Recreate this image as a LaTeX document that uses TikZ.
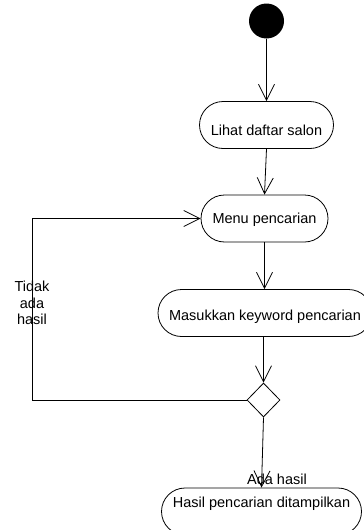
\documentclass[tikz,border=0pt]{standalone}
\usepackage{fontspec}
\setmainfont{Liberation Sans}
\usetikzlibrary{arrows.meta,shapes.geometric}
\begin{document}
\begin{tikzpicture}[x=1pt,y=-1pt,
  every node/.style={font=\fontsize{14.5}{16.7}\selectfont},
  act/.style={draw,line width=0.8pt,rounded corners=23.5pt,minimum height=47pt,inner sep=0pt},
  arr/.style={line width=0.8pt,-{Straight Barb[length=16pt,width=16pt,line width=0.8pt]}},
  ln/.style={line width=0.8pt}]
\useasboundingbox (0,0) rectangle (364,530);
\node[circle,fill=black,minimum size=35pt,inner sep=0pt] (start) at (266.5,21) {};
\node[act,minimum width=134pt,text height=21pt,text depth=0pt] (lihat) at (266.5,125) {Lihat daftar salon};
\node[act,minimum width=127pt,text height=13.4pt,text depth=3pt] (menu) at (264.5,218.5) {Menu pencarian};
\node[act,minimum width=214pt,text height=17pt,text depth=3pt] (masuk) at (265,313) {Masukkan keyword pencarian};
\node[diamond,draw,line width=0.8pt,minimum width=33pt,minimum height=34pt,inner sep=0pt] (dia) at (263.5,400) {};
\node[act,minimum width=200pt,text height=10.6pt,text depth=18pt] (hasil) at (261.5,511.5) {Hasil pencarian ditampilkan};
\coordinate (lp) at (32,400);
\draw[arr] (start) -- (lihat.north);
\draw[arr] (lihat.south) -- (menu.north);
\draw[arr] (menu.south) -- (menu.south |- masuk.north);
\draw[arr] (dia.north |- masuk.south) -- (dia.north);
\draw[arr] (dia.south) -- (hasil.north);
\draw[arr] (dia.west) -- (lp) |- (menu.west);
\node[align=center,inner sep=0pt] (tlab) at (32,303) {Tidak\\ada\\hasil};
\node[anchor=base,inner sep=0pt] (alab) at (277,484) {Ada hasil};
\end{tikzpicture}
\end{document}
